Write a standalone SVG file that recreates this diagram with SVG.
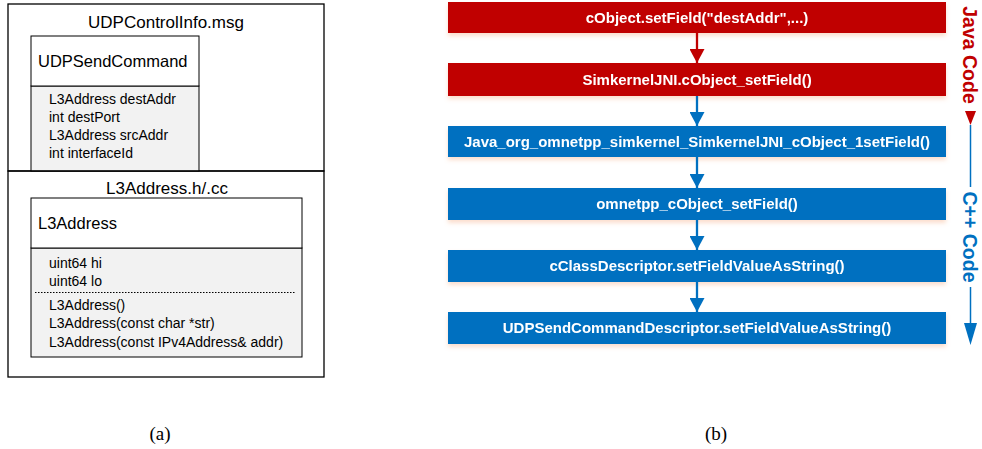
<svg xmlns="http://www.w3.org/2000/svg" width="982" height="449" viewBox="0 0 982 449">
  <style>
    .frame { fill: #ffffff; stroke: #000000; stroke-width: 1.3; }
    .head { fill: #ffffff; stroke: #000000; stroke-width: 1; }
    .body { fill: #f2f2f2; stroke: #000000; stroke-width: 1; }
    .title { font-family: "Liberation Sans", Arial, sans-serif; font-size: 17px; fill: #000000; text-anchor: middle; }
    .cls { font-family: "Liberation Sans", Arial, sans-serif; font-size: 16.5px; fill: #000000; }
    .mem { font-family: "Liberation Sans", Arial, sans-serif; font-size: 14px; fill: #000000; }
    .red { fill: #c00000; }
    .blue { fill: #0070c0; }
    .step { font-family: "Liberation Sans", Arial, sans-serif; font-size: 15px; font-weight: bold; fill: #ffffff; text-anchor: middle; }
    .flow-r { stroke: #c00000; stroke-width: 2.3; fill: none; }
    .flow-b { stroke: #0070c0; stroke-width: 2.3; fill: none; }
    .side { font-family: "Liberation Sans", Arial, sans-serif; font-size: 19.5px; font-weight: bold; text-anchor: middle; }
    .cap { font-family: "Liberation Serif", "DejaVu Serif", serif; font-size: 19px; fill: #000000; text-anchor: middle; }
  </style>
  <defs>
    <filter id="soft" x="-5%" y="-30%" width="110%" height="180%">
      <feGaussianBlur in="SourceAlpha" stdDeviation="2" result="b"/>
      <feOffset dy="3" in="b" result="o"/>
      <feFlood flood-color="#f4a070" flood-opacity="0.35"/>
      <feComposite in2="o" operator="in" result="s"/>
      <feMerge><feMergeNode in="s"/><feMergeNode in="SourceGraphic"/></feMerge>
    </filter>
    <marker id="tipR" markerUnits="userSpaceOnUse" markerWidth="14" markerHeight="15" refX="14" refY="7.5" orient="auto">
      <path d="M0,0 L14,7.5 L0,15 Z" fill="#c00000"/>
    </marker>
    <marker id="tipB" markerUnits="userSpaceOnUse" markerWidth="14" markerHeight="15" refX="14" refY="7.5" orient="auto">
      <path d="M0,0 L14,7.5 L0,15 Z" fill="#0070c0"/>
    </marker>
  </defs>

  <!-- (a) class layout -->
  <g id="udpControlInfo">
    <rect class="frame" x="8" y="4" width="316" height="167"/>
    <text class="title" x="166" y="28">UDPControlInfo.msg</text>
  </g>
  <g id="udpSendCommand">
    <rect class="body" x="31" y="86" width="168" height="85"/>
    <rect class="head" x="31" y="36" width="168" height="50"/>
    <text class="cls" x="38" y="67">UDPSendCommand</text>
    <text class="mem" x="49" y="104">L3Address destAddr</text>
    <text class="mem" x="49" y="122">int destPort</text>
    <text class="mem" x="49" y="140">L3Address srcAddr</text>
    <text class="mem" x="49" y="158">int interfaceId</text>
  </g>
  <g id="l3AddressFile">
    <rect class="frame" x="8" y="171" width="316" height="206" style="fill:none"/>
    <text class="title" x="167" y="194">L3Address.h/.cc</text>
  </g>
  <g id="l3Address">
    <rect class="body" x="31" y="248" width="271" height="109"/>
    <rect class="head" x="31" y="198" width="271" height="50"/>
    <text class="cls" x="38" y="229">L3Address</text>
    <text class="mem" x="49" y="268">uint64 hi</text>
    <text class="mem" x="49" y="286">uint64 lo</text>
    <line x1="35" y1="292.5" x2="295" y2="292.5" stroke="#000000" stroke-width="1" stroke-dasharray="1.5,1.5"/>
    <text class="mem" x="49" y="310">L3Address()</text>
    <text class="mem" x="49" y="328">L3Address(const char *str)</text>
    <text class="mem" x="49" y="347">L3Address(const IPv4Address&amp; addr)</text>
  </g>

  <!-- (b) call chain -->
  <g id="step1" filter="url(#soft)">
    <rect class="red" x="448" y="2" width="498" height="31"/>
    <text class="step" x="697" y="23">cObject.setField("destAddr",...)</text>
  </g>
  <g id="step2" filter="url(#soft)">
    <rect class="red" x="448" y="63" width="498" height="33"/>
    <text class="step" x="697" y="85">SimkernelJNI.cObject_setField()</text>
  </g>
  <g id="step3" filter="url(#soft)">
    <rect class="blue" x="448" y="126" width="498" height="31"/>
    <text class="step" x="697" y="147">Java_org_omnetpp_simkernel_SimkernelJNI_cObject_1setField()</text>
  </g>
  <g id="step4" filter="url(#soft)">
    <rect class="blue" x="448" y="188" width="498" height="32"/>
    <text class="step" x="697" y="209">omnetpp_cObject_setField()</text>
  </g>
  <g id="step5" filter="url(#soft)">
    <rect class="blue" x="448" y="250" width="498" height="32"/>
    <text class="step" x="697" y="271">cClassDescriptor.setFieldValueAsString()</text>
  </g>
  <g id="step6" filter="url(#soft)">
    <rect class="blue" x="448" y="312" width="498" height="32"/>
    <text class="step" x="697" y="333">UDPSendCommandDescriptor.setFieldValueAsString()</text>
  </g>

  <g id="connectors">
    <line class="flow-r" x1="697" y1="33" x2="697" y2="63" marker-end="url(#tipR)"/>
    <line class="flow-b" x1="697" y1="96" x2="697" y2="126" marker-end="url(#tipB)"/>
    <line class="flow-b" x1="697" y1="157" x2="697" y2="188" marker-end="url(#tipB)"/>
    <line class="flow-b" x1="697" y1="220" x2="697" y2="250" marker-end="url(#tipB)"/>
    <line class="flow-b" x1="697" y1="282" x2="697" y2="312" marker-end="url(#tipB)"/>
  </g>

  <!-- language bands -->
  <g id="javaBand">
    <text class="side" fill="#c00000" transform="translate(963,55) rotate(90)">Java Code</text>
    <polygon points="965,111 976,111 970.5,125" fill="#c00000"/>
  </g>
  <g id="cppBand">
    <line x1="970.5" y1="125" x2="970.5" y2="187" stroke="#0070c0" stroke-width="1.5"/>
    <text class="side" fill="#0070c0" transform="translate(963,237) rotate(90)">C++ Code</text>
    <line x1="970.5" y1="287" x2="970.5" y2="324" stroke="#0070c0" stroke-width="1.5"/>
    <polygon points="964,323 977,323 970.5,345" fill="#0070c0"/>
  </g>

  <!-- captions -->
  <text class="cap" x="160" y="440">(a)</text>
  <text class="cap" x="716" y="440">(b)</text>
</svg>
